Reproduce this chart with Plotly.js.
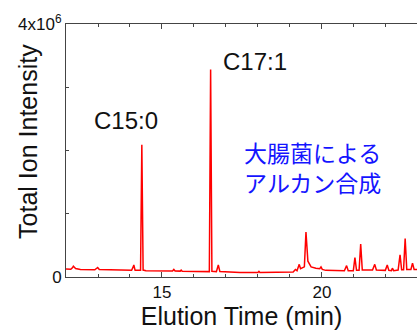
<!DOCTYPE html>
<html>
<head>
<meta charset="utf-8">
<script src="https://cdn.plot.ly/plotly-3.0.1.min.js"></script>
<style>html,body{margin:0;padding:0;background:#fff;}#chart{width:417px;height:334px;}</style>
</head>
<body>
<div id="chart"></div>
<script>
// Elution time (min)
const elutionTime = [
  12.00, 12.15, 12.20, 12.23, 12.30, 12.45, 12.90, 12.96, 12.99, 13.04,
  13.50, 14.05, 14.10, 14.12, 14.16, 14.33, 14.37, 14.41, 14.50, 15.33,
  15.37, 15.41, 15.57, 15.60, 15.63, 16.20, 16.48, 16.52, 16.56, 16.70,
  16.76, 16.81, 17.44, 18.00, 18.03, 18.06, 18.60, 19.10, 19.17, 19.22,
  19.29, 19.33, 19.45, 19.50, 19.56, 19.66, 19.81, 19.93, 19.97, 20.01,
  20.12, 20.70, 20.77, 20.82, 20.98, 21.03, 21.08, 21.16, 21.21, 21.26,
  21.58, 21.65, 21.70, 21.98, 22.04, 22.09, 22.17, 22.20, 22.24, 22.38,
  22.44, 22.49, 22.55, 22.60, 22.65, 22.78, 22.83, 22.88, 23.00
];
// Total ion intensity
const totalIonIntensity = [
  1.25e5, 1.22e5, 1.45e5, 1.7e5, 1.35e5, 1.2e5, 1.15e5, 1.3e5, 1.5e5, 1.2e5,
  1.1e5, 1.05e5, 1.6e5, 1.9e5, 1.05e5, 1.05e5, 2.09e6, 1.1e5, 1.0e5, 0.95e5,
  1.2e5, 0.95e5, 0.93e5, 1.1e5, 0.92e5, 0.85e5, 0.85e5, 3.28e6, 0.9e5, 0.85e5,
  1.9e5, 0.85e5, 0.7e5, 0.72e5, 0.9e5, 0.72e5, 0.7e5, 0.8e5, 1.2e5, 1.0e5,
  2.0e5, 1.3e5, 1.6e5, 7.1e5, 2.5e5, 1.6e5, 1.4e5, 1.3e5, 1.6e5, 1.2e5,
  1.05e5, 1.0e5, 1.8e5, 1.0e5, 1.0e5, 3.05e5, 1.05e5, 1.05e5, 5.2e5, 1.1e5,
  1.1e5, 2.0e5, 1.1e5, 1.05e5, 1.9e5, 1.05e5, 1.0e5, 1.4e5, 1.0e5, 1.1e5,
  3.5e5, 1.15e5, 1.15e5, 6.1e5, 1.2e5, 1.2e5, 2.2e5, 1.2e5, 1.2e5
];
const yTickValues = [0, 4e6];
const yTickLabels = ['0', '4x10<sup>6</sup>'];
const peakLabels = ['C15:0', 'C17:1'];
const noteLines = ['大腸菌による', 'アルカン合成'];

const FONT = 'Arial, "Liberation Sans", sans-serif';
const axisColor = '#444';

const trace = {
  x: elutionTime, y: totalIonIntensity, type: 'scatter', mode: 'lines',
  line: {color: '#ff0000', width: 1.5}, hoverinfo: 'skip'
};

const layout = {
  width: 417, height: 334,
  margin: {l: 66, r: 0, t: 24, b: 57, pad: 0},
  paper_bgcolor: '#fff', plot_bgcolor: '#fff',
  showlegend: false,
  font: {family: FONT, color: '#111'},
  xaxis: {
    range: [12, 22.97], showgrid: false, zeroline: false,
    showline: true, linecolor: axisColor, linewidth: 1, mirror: 'allticks',
    ticks: 'inside', ticklen: 5, tickcolor: axisColor, tickwidth: 1,
    tick0: 0, dtick: 5, tickfont: {family: FONT, size: 17, color: '#111'},
    minor: {dtick: 1, tick0: 0, ticks: 'inside', ticklen: 3, tickcolor: axisColor, showgrid: false},
    title: {text: 'Elution Time (min)', font: {family: FONT, size: 25, color: '#111'}, standoff: 6}
  },
  yaxis: {
    range: [0, 4e6], showgrid: false, zeroline: false,
    showline: true, linecolor: axisColor, linewidth: 1, mirror: false,
    ticks: 'inside', ticklen: 3, tickcolor: axisColor,
    tickvals: yTickValues, ticktext: yTickLabels,
    minor: {dtick: 1e6, tick0: 0, ticks: 'inside', ticklen: 3, tickcolor: axisColor, showgrid: false},
    tickfont: {family: FONT, size: 17, color: '#111'}
  },
  annotations: [
    {text: 'Total Ion Intensity', textangle: -90, xref: 'paper', yref: 'paper',
     x: 0, y: 0.534, xshift: -38, xanchor: 'center', yanchor: 'middle', showarrow: false,
     font: {family: FONT, size: 25, color: '#111'}},
    {text: peakLabels[0], x: 13.875, y: 2.48e6, xanchor: 'center', yanchor: 'middle', showarrow: false,
     font: {family: FONT, size: 24, color: '#111'}},
    {text: peakLabels[1], x: 17.92, y: 3.40e6, xanchor: 'center', yanchor: 'middle', showarrow: false,
     font: {family: FONT, size: 24, color: '#111'}},
    {text: noteLines.join('<br>'), x: 19.69, y: 1.74e6, xanchor: 'center', yanchor: 'middle', showarrow: false,
     font: {family: '"Noto Sans CJK JP", sans-serif', size: 23, color: '#1414ff'}}
  ]
};

Plotly.newPlot('chart', [trace], layout, {displayModeBar: false, staticPlot: true});
</script>
</body>
</html>
